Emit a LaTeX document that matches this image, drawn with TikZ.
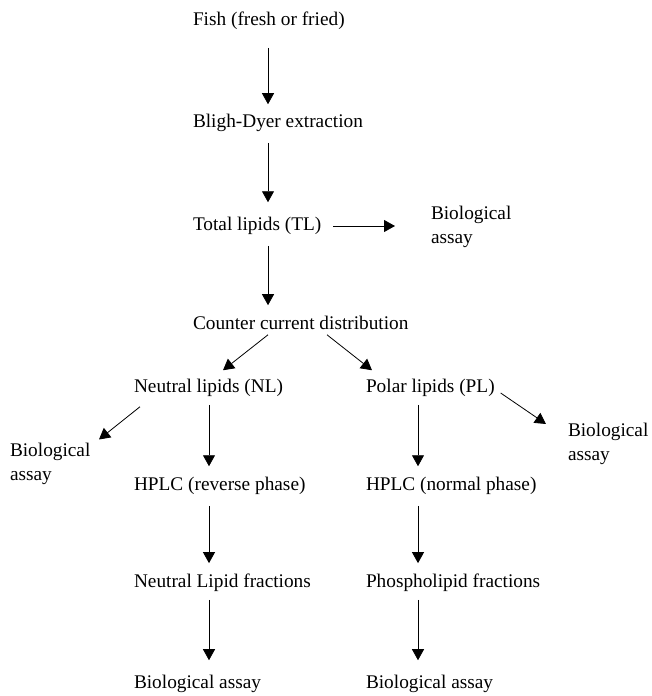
\documentclass[tikz,border=0pt]{standalone}
\usepackage{fontspec}
\setmainfont{Liberation Serif}
\usetikzlibrary{arrows.meta,calc}

\begin{document}
\begin{tikzpicture}[x=1pt,y=-1pt,
  stage/.style={anchor=west,inner sep=0pt,outer sep=0pt,align=left,
                font=\fontsize{19.3}{23.5}\selectfont},
  flow/.style={-{Triangle[length=11pt,width=12pt]},line width=0.8pt,
               shorten <=11pt,shorten >=11pt},
  slant/.style={flow,shorten <=0pt,shorten >=0pt}]
  \useasboundingbox (0,0) rectangle (651,696);
  % trunk -- left aligned at one column
  \node[stage] (fish)  at (193,21)  {Fish (fresh or fried)};
  \node[stage] (bligh) at (193,123) {Bligh-Dyer extraction};
  \node[stage] (tl)    at (193,226) {Total lipids (TL)};
  \node[stage] (biotl) at (431,227) {Biological\\assay};
  \node[stage] (ccd)   at (193,323) {Counter current distribution};
  % two branches
  \node[stage] (nl)    at (134,388) {Neutral lipids (NL)};
  \node[stage] (pl)    at (366,388) {Polar lipids (PL)};
  \node[stage] (bionl) at (10,464)  {Biological\\assay};
  \node[stage] (biopl) at (568,444) {Biological\\assay};
  \node[stage] (hplcr) at (134,486) {HPLC (reverse phase)};
  \node[stage] (hplcn) at (366,486) {HPLC (normal phase)};
  \node[stage] (nlf)   at (134,583) {Neutral Lipid fractions};
  \node[stage] (plf)   at (366,583) {Phospholipid fractions};
  \node[stage] (bion)  at (134,684) {Biological assay};
  \node[stage] (biop)  at (366,684) {Biological assay};
  % arrow columns
  \coordinate (cmain) at (268,0);
  \coordinate (cleft) at (209,0);
  \coordinate (cright) at (418,0);
  \draw[flow,shorten <=18pt,shorten >=10pt] (fish.south -| cmain) -- (bligh.north -| cmain);
  \draw[flow,shorten >=15pt] (bligh.south -| cmain) -- (tl.north -| cmain);
  \draw[flow] (tl.south -| cmain) -- (ccd.north -| cmain);
  \draw[flow,shorten <=12pt,shorten >=36pt] (tl.east) -- (tl.east -| biotl.west);
  \draw[slant] ([xshift=75pt,yshift=-5pt]ccd.south west)
    -- ([xshift=89pt,yshift=9pt]nl.north west);
  \draw[slant] ([xshift=134pt,yshift=-5pt]ccd.south west)
    -- ([xshift=6pt,yshift=9pt]pl.north west);
  \draw[slant] ([xshift=6pt,yshift=-10pt]nl.south west)
    -- ([xshift=89pt,yshift=4pt]bionl.north west);
  \draw[slant] ([xshift=6pt,yshift=-5pt]pl.east)
    -- ([xshift=-22pt,yshift=20pt]biopl.west);
  \draw[flow,shorten <=8pt] (nl.south -| cleft) -- (hplcr.north -| cleft);
  \draw[flow] (hplcr.south -| cleft) -- (nlf.north -| cleft);
  \draw[flow,shorten <=8pt,shorten >=15pt] (nlf.south -| cleft) -- (bion.north -| cleft);
  \draw[flow,shorten <=8pt] (pl.south -| cright) -- (hplcn.north -| cright);
  \draw[flow] (hplcn.south -| cright) -- (plf.north -| cright);
  \draw[flow,shorten <=8pt,shorten >=15pt] (plf.south -| cright) -- (biop.north -| cright);
\end{tikzpicture}
\end{document}
